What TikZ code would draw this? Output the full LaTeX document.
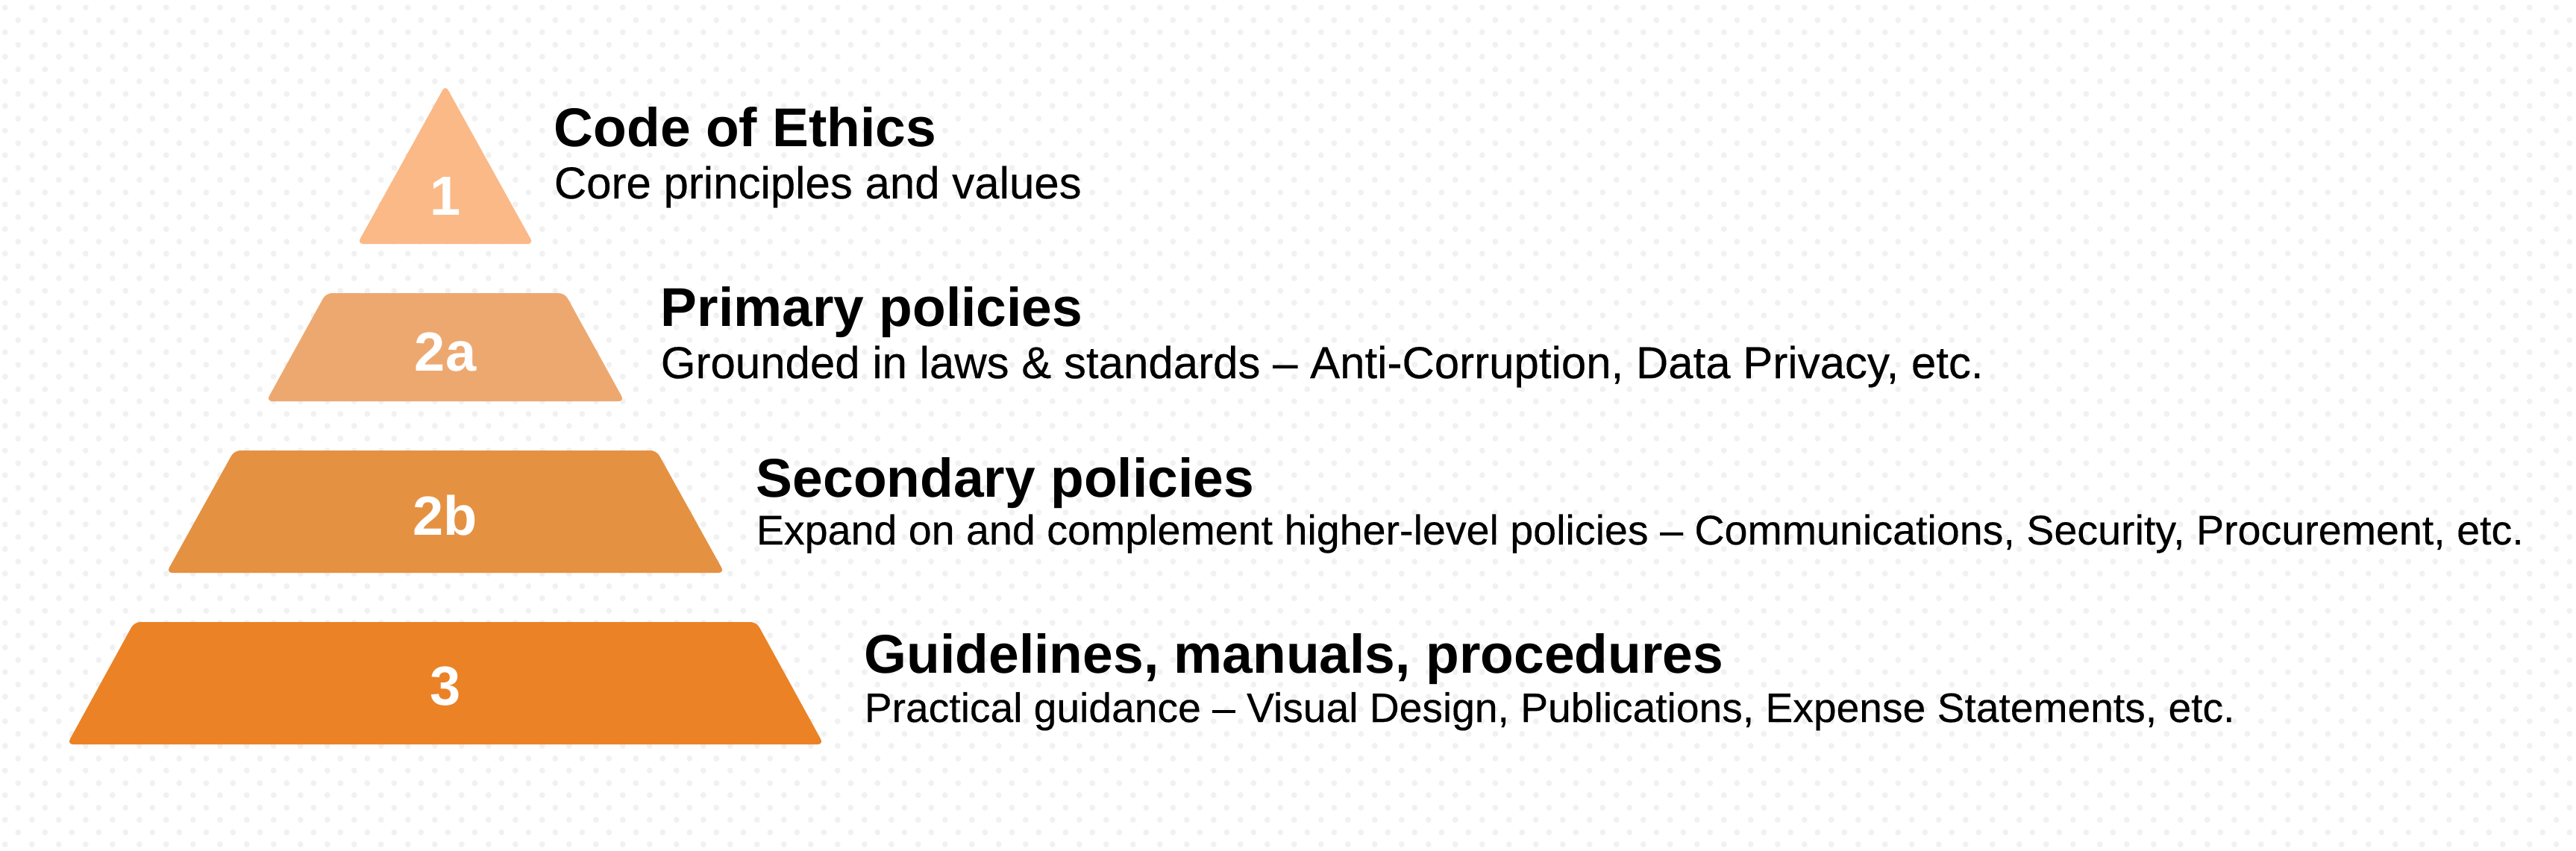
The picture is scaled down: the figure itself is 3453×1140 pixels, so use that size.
\documentclass[tikz,border=0pt]{standalone}
\usepackage{fontspec}
\setmainfont{Liberation Sans}
\newfontfamily\descfont{Liberation Sans}[FakeBold=0.3]
\usetikzlibrary{patterns.meta}

\definecolor{levelone}{HTML}{FAB987}
\definecolor{leveltwoa}{HTML}{EDA870}
\definecolor{leveltwob}{HTML}{E59142}
\definecolor{levelthree}{HTML}{EB8225}
\definecolor{dotgray}{HTML}{F1F1F1}

\tikzdeclarepattern{
  name=bgdots,
  type=uncolored,
  bounding box={(0,0) and (9pt,8.15pt)},
  tile size={(9pt,8.15pt)},
  code={
    \fill (2pt,2pt) circle[radius=1pt];
    \fill (6.5pt,6.075pt) circle[radius=1pt];
  }
}

\begin{document}
\begin{tikzpicture}[x=0.25pt,y=-0.25pt,line join=round,
    level/.style={rounded corners=2pt},
    num/.style={anchor=base,inner sep=0pt,text=white,font=\fontsize{18.5}{20}\selectfont\bfseries},
    head/.style={anchor=base west,inner sep=0pt,font=\fontsize{18.3}{20}\selectfont\bfseries},
    desc/.style={anchor=base west,inner sep=0pt,font=\fontsize{15}{17}\selectfont\descfont},
    smalldesc/.style={desc,font=\fontsize{13.8}{16}\selectfont\descfont}]
  \useasboundingbox (0,0) rectangle (3453,1140);
  \fill[white] (0,0) rectangle (3453,1140);
  \fill[pattern=bgdots,pattern color=dotgray] (0,0) rectangle (3453,1140);

  % pyramid levels
  \fill[levelone,level] (597,114) -- (715,327) -- (479,327) -- cycle;
  \fill[leveltwoa,level] (437,393) -- (757,393) -- (837,538) -- (357,538) -- cycle;
  \fill[leveltwob,level] (314,604) -- (880,604) -- (971,768) -- (223,768) -- cycle;
  \fill[levelthree,level] (180,834) -- (1014,834) -- (1104,998) -- (90,998) -- cycle;

  \node[num] (n1) at (597,288) {1};
  \node[num] (n2a) at (597,497) {2a};
  \node[num] (n2b) at (597,717) {2b};
  \node[num] (n3) at (597,945) {3};

  % texts
  \node[head] (ethics) at (742,196) {Code of Ethics};
  \node[desc] (ethicsdesc) at (742,266) {Core principles and values};
  \node[head] (primary) at (885,437) {Primary policies};
  \node[desc] (primarydesc) at (885,507) {Grounded in laws \& standards – Anti-Corruption, Data Privacy, etc.};
  \node[head] (secondary) at (1013,666) {Secondary policies};
  \node[smalldesc,font=\fontsize{13.9}{16}\selectfont\descfont] (secondarydesc) at (1013,730) {Expand on and complement higher-level policies – Communications, Security, Procurement, etc.};
  \node[head] (guides) at (1158,902) {Guidelines, manuals, procedures};
  \node[smalldesc] (guidesdesc) at (1158,968) {Practical guidance – Visual Design, Publications, Expense Statements, etc.};
\end{tikzpicture}
\end{document}
